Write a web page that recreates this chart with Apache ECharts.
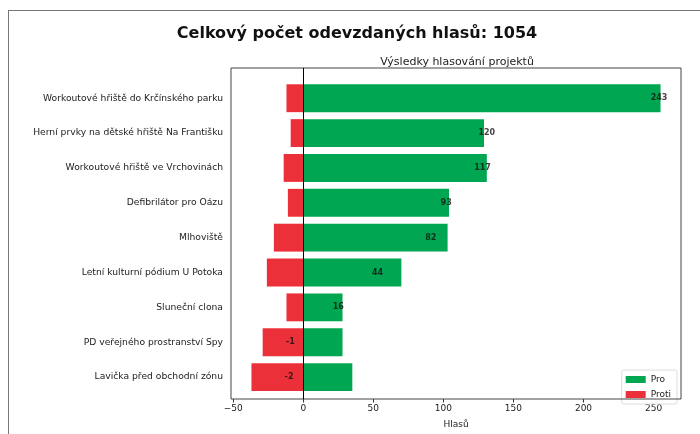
<!DOCTYPE html>
<html>
<head>
<meta charset="utf-8">
<script src="https://cdn.jsdelivr.net/npm/echarts@6/dist/echarts.min.js"></script>
<style>
    html, body { margin: 0; padding: 0; background: #fff; }
    #wrap { position: relative; width: 700px; height: 434px; }
    #chart { width: 700px; height: 434px; }
    /* rámeček obrázku (levá a horní hrana) */
    #edge { position: absolute; left: 8px; top: 10px; right: -2px; bottom: -2px;
            border-left: 1.5px solid #777; border-top: 1.5px solid #777; pointer-events: none; }
</style>
</head>
<body>
<div id="wrap">
    <div id="chart"></div>
    <div id="edge"></div>
</div>
<script>
    // data z grafu
    var projects = [
        'Workoutové hřiště do Krčínského parku',
        'Herní prvky na dětské hřiště Na Františku',
        'Workoutové hřiště ve Vrchovinách',
        'Defibrilátor pro Oázu',
        'Mlhoviště',
        'Letní kulturní pódium U Potoka',
        'Sluneční clona',
        'PD veřejného prostranství Spy',
        'Lavička před obchodní zónu'
    ];
    var proVotes = [255, 129, 131, 104, 103, 70, 28, 28, 35];
    var protiVotes = [-12, -9, -14, -11, -21, -26, -12, -29, -37];
    var netVotes = [243, 120, 117, 93, 82, 44, 16, -1, -2];
    var xTicks = [-50, 0, 50, 100, 150, 200, 250];
    var totalVotes = 1054;

    var xMin = -51.6, xMax = 269.6;
    var font = 'DejaVu Sans';

    var labelData = [];
    for (var i = 0; i < netVotes.length; i++) {
        var v = netVotes[i];
        labelData.push({
            value: [v, i],
            label: { position: v >= 0 ? 'right' : 'left' }
        });
    }

    var myChart = echarts.init(document.getElementById('chart'));
    var option = {
        backgroundColor: '#fff',
        animation: false,
        textStyle: { fontFamily: font },
        title: [
            {
                text: 'Celkový počet odevzdaných hlasů: ' + totalVotes,
                left: 352, top: 21, textAlign: 'center',
                textStyle: { fontFamily: font, fontSize: 16, fontWeight: 'bold', color: '#111' }
            },
            {
                text: 'Výsledky hlasování projektů',
                left: 452, top: 52, textAlign: 'center',
                textStyle: { fontFamily: font, fontSize: 11, fontWeight: 'normal', color: '#222' }
            }
        ],
        legend: {
            data: ['Pro', 'Proti'],
            orient: 'vertical',
            right: 23, top: 370,
            itemWidth: 20, itemHeight: 7, itemGap: 6,
            padding: [5, 6, 5, 4],
            borderColor: '#ddd', borderWidth: 1, borderRadius: 2,
            backgroundColor: '#fff',
            icon: 'rect',
            textStyle: { fontFamily: font, fontSize: 9, color: '#222' }
        },
        grid: [
            // datová oblast – pásma kategorií
            { left: 231, right: 19, top: 80.8, height: 313.7, containLabel: false },
            // rámeček os
            { left: 231, right: 19, top: 68, bottom: 28, show: true,
              borderColor: '#444', borderWidth: 1, backgroundColor: 'transparent', z: 5 }
        ],
        xAxis: [
            { gridIndex: 0, type: 'value', min: xMin, max: xMax, show: false },
            {
                gridIndex: 1, type: 'value', min: xMin, max: xMax,
                axisLine: { show: false },
                splitLine: { show: false },
                axisTick: { show: true, length: 3.5, lineStyle: { color: '#333' }, customValues: xTicks },
                axisLabel: {
                    fontFamily: font, fontSize: 9, color: '#222', margin: 5,
                    customValues: xTicks,
                    formatter: function (v) { return String(v).replace('-', '\u2212'); }
                },
                name: 'Hlasů', nameLocation: 'middle', nameGap: 21,
                nameTextStyle: { fontFamily: font, fontSize: 9, color: '#222' }
            }
        ],
        yAxis: [
            {
                gridIndex: 0, type: 'category', data: projects, inverse: true,
                axisLine: { show: false },
                axisTick: { show: true, alignWithLabel: true, length: 3.5, lineStyle: { color: '#333' } },
                axisLabel: { fontFamily: font, fontSize: 9.2, color: '#222', margin: 8, interval: 0 },
                splitLine: { show: false }
            },
            { gridIndex: 1, type: 'value', min: 0, max: 1, show: false }
        ],
        series: [
            {
                name: 'Pro', type: 'bar', xAxisIndex: 0, yAxisIndex: 0,
                data: proVotes, barWidth: '80%', barGap: '-100%',
                itemStyle: { color: '#00a651' }
            },
            {
                name: 'Proti', type: 'bar', xAxisIndex: 0, yAxisIndex: 0,
                data: protiVotes, barWidth: '80%', barGap: '-100%',
                itemStyle: { color: '#ec3039' }
            },
            {
                name: 'net', type: 'scatter', xAxisIndex: 0, yAxisIndex: 0,
                symbolSize: 0, z: 10,
                data: labelData,
                label: {
                    show: true, distance: 7,
                    fontFamily: font, fontSize: 8, fontWeight: 'bold', color: '#111',
                    formatter: function (p) { return p.value[0]; }
                }
            },
            {
                // svislá čára v nule
                name: 'zero', type: 'line', xAxisIndex: 1, yAxisIndex: 1,
                data: [], z: 8,
                markLine: {
                    silent: true, symbol: 'none',
                    label: { show: false },
                    lineStyle: { color: '#000', width: 1, type: 'solid' },
                    data: [{ xAxis: 0 }]
                }
            }
        ]
    };
    myChart.setOption(option);
</script>
</body>
</html>
